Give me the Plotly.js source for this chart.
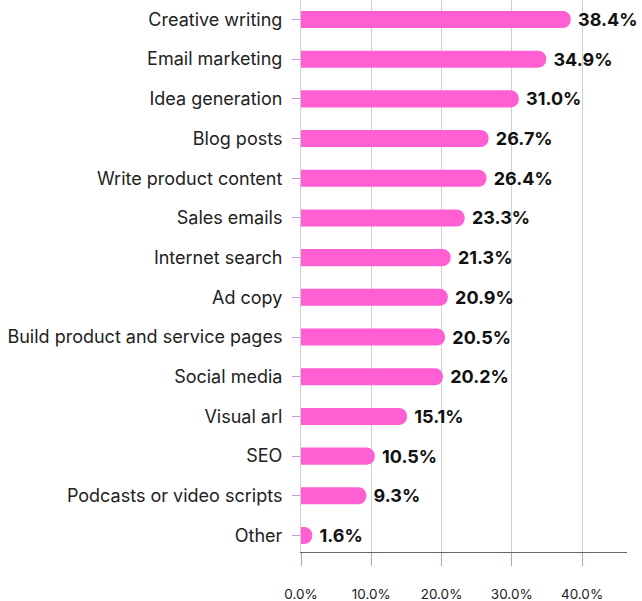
<!DOCTYPE html>
<html><head><meta charset="utf-8">
<script src="https://cdn.plot.ly/plotly-3.0.1.min.js"></script>
<style>html,body{margin:0;padding:0;background:#fff}#chart{width:642px;height:601px}</style>
</head><body><div id="chart"></div>
<script>
const categories = ["Creative writing","Email marketing","Idea generation","Blog posts","Write product content","Sales emails","Internet search","Ad copy","Build product and service pages","Social media","Visual arl","SEO","Podcasts or video scripts","Other"];
const values = [38.4,34.9,31.0,26.7,26.4,23.3,21.3,20.9,20.5,20.2,15.1,10.5,9.3,1.6];
const tickVals = [0,10,20,30,40];
const tickText = ["0.0%","10.0%","20.0%","30.0%","40.0%"];

Plotly.newPlot('chart', [{
  type:'bar', orientation:'h',
  y: categories, x: values,
  width: 0.43,
  marker:{color:'#ff5fd2', cornerradius:'50%'},
  texttemplate:'\u00a0%{x:.1f}%', textposition:'outside', constraintext:'none',
  textfont:{family:'Inter', size:18, color:'#111', weight:700},
  cliponaxis:false, hoverinfo:'none'
}], {
  width:642, height:601,
  margin:{l:301, r:15, t:0, b:49},
  paper_bgcolor:'#fff', plot_bgcolor:'#fff',
  showlegend:false,
  font:{family:'Inter', color:'#222'},
  xaxis:{range:[0,46.4], tickvals:tickVals, ticktext:tickText,
    showgrid:true, gridcolor:'#cfcfcf', gridwidth:1,
    zeroline:false, showline:true, linecolor:'#666', linewidth:1,
    ticks:'outside', ticklen:13, tickcolor:'#c49ad6', tickwidth:1,
    ticklabelstandoff:17,
    tickfont:{family:'Inter', size:13.5, color:'#222'}},
  yaxis:{range:[13.416,-0.491], type:'category',
    showline:true, linecolor:'#cfcfcf', linewidth:1,
    ticks:'outside', ticklen:8, tickcolor:'#c49ad6', tickwidth:1,
    ticklabelstandoff:6,
    tickfont:{family:'Inter', size:18, color:'#222'}, showgrid:false}
}, {displayModeBar:false, staticPlot:true});
</script></body></html>
